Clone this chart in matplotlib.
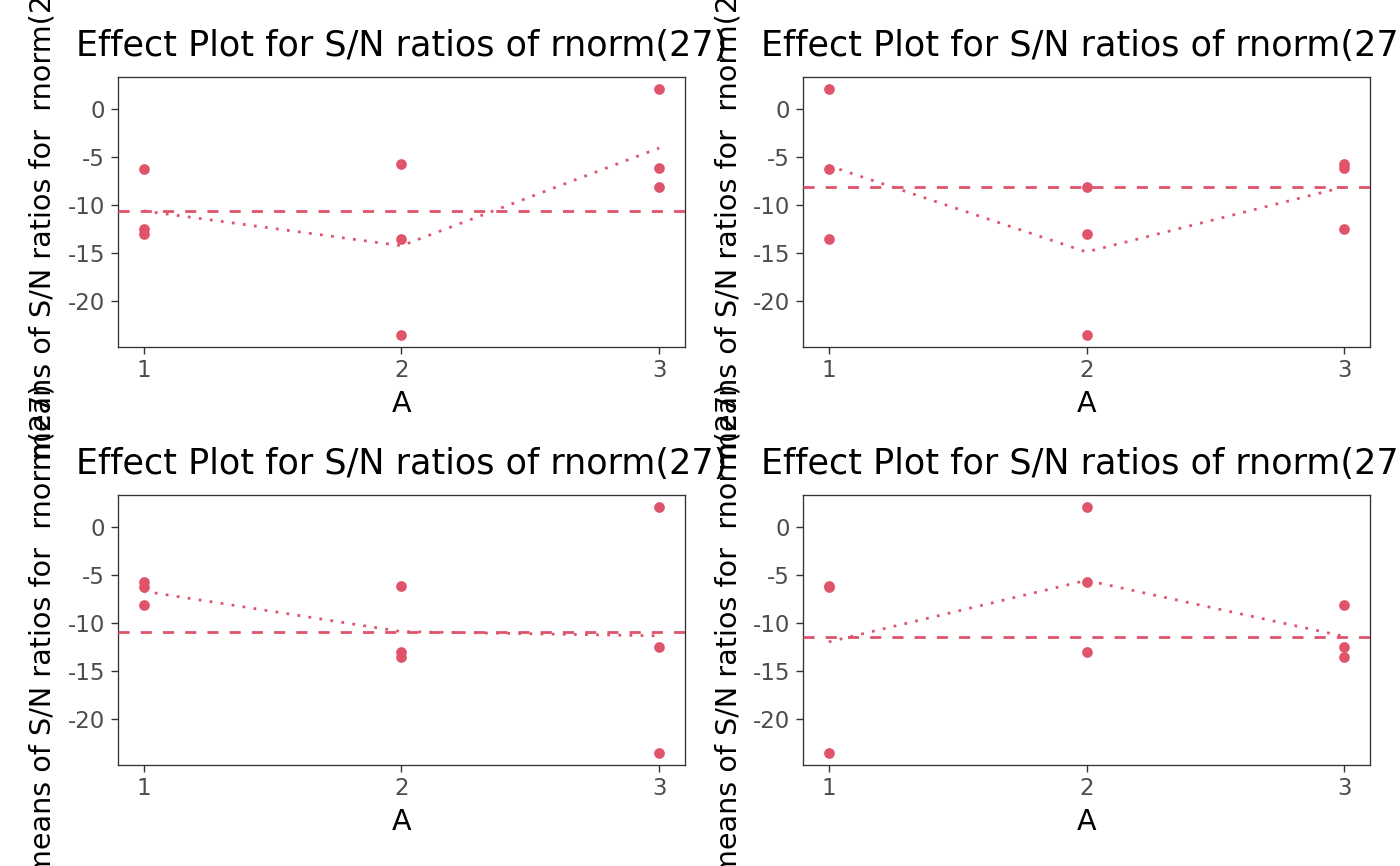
import matplotlib
matplotlib.use("Agg")
import matplotlib.pyplot as plt
import numpy as np

# factor levels of A
levels = [1, 2, 3]
tick_y = [0, -5, -10, -15, -20]

# S/N ratios per level of A, one list per panel
sn_top_left = [[-6.26, -12.56, -13.06], [-5.68, -13.55, -23.56], [2.08, -6.12, -8.12]]
sn_top_right = [[2.08, -6.26, -13.55], [-8.12, -13.06, -23.56], [-5.68, -6.12, -12.56]]
sn_bottom_left = [[-5.68, -6.26, -8.12], [-6.12, -13.06, -13.55], [2.08, -12.56, -23.56]]
sn_bottom_right = [[-6.12, -6.26, -23.56], [2.08, -5.68, -13.06], [-8.12, -12.56, -13.55]]

# dashed reference line of each panel
ref_lines = [-10.62, -8.17, -10.93, -11.42]

title = "Effect Plot for S/N ratios of rnorm(27)"
ylab = "means of S/N ratios for  rnorm(27)"
xlab = "A"

col = "#DF536B"
W, H = 1400, 866

fig = plt.figure(figsize=(14, 8.66), dpi=100)
fig.patch.set_facecolor("white")

# axes boxes in pixels (left, top, right, bottom)
boxes = [(118, 77, 685, 347), (803, 77, 1370, 347),
         (118, 495, 685, 765), (803, 495, 1370, 765)]
panels = [sn_top_left, sn_top_right, sn_bottom_left, sn_bottom_right]

for (l, t, r, b), data, ref in zip(boxes, panels, ref_lines):
    ax = fig.add_axes([l / W, (H - b) / H, (r - l) / W, (b - t) / H])
    xs = np.repeat(levels, 3)
    ys = np.concatenate(data)
    means = [np.mean(v) for v in data]

    ax.plot(xs, ys, "o", color=col, markersize=7.7, markeredgewidth=0, zorder=2)
    ax.plot(levels, means, color=col, lw=2.0, dashes=(1, 3),
            dash_capstyle="butt", zorder=3)
    ax.margins(x=0.05, y=0.05)
    ax.axhline(ref, color=col, lw=2.0, dashes=(4, 4),
               dash_capstyle="butt", zorder=3)

    ax.set_xticks(levels)
    ax.set_yticks(tick_y)
    ax.set_yticklabels([str(v) for v in tick_y])
    ax.tick_params(axis="both", direction="out", length=5.2, width=1.0,
                   color="#333333", labelcolor="#4D4D4D", labelsize=16.5)
    ax.tick_params(axis="x", pad=3.6)
    ax.tick_params(axis="y", pad=4)
    for s in ax.spines.values():
        s.set_color("#333333")
        s.set_linewidth(0.95)

    ax.set_title(title, fontsize=25.2, y=1 + 21 / (b - t), pad=0,
                 va="baseline", ha="center")
    ax.set_xlabel(xlab, fontsize=20.6)
    ax.xaxis.set_label_coords(0.5, -65 / (b - t))
    ax.xaxis.label.set_va("baseline")
    ax.set_ylabel(ylab, fontsize=20.6)
    ax.yaxis.set_label_coords(-67 / (r - l), 0.5)
    ax.yaxis.label.set_va("baseline")

fig.savefig("out.png", dpi=100, facecolor="white")
